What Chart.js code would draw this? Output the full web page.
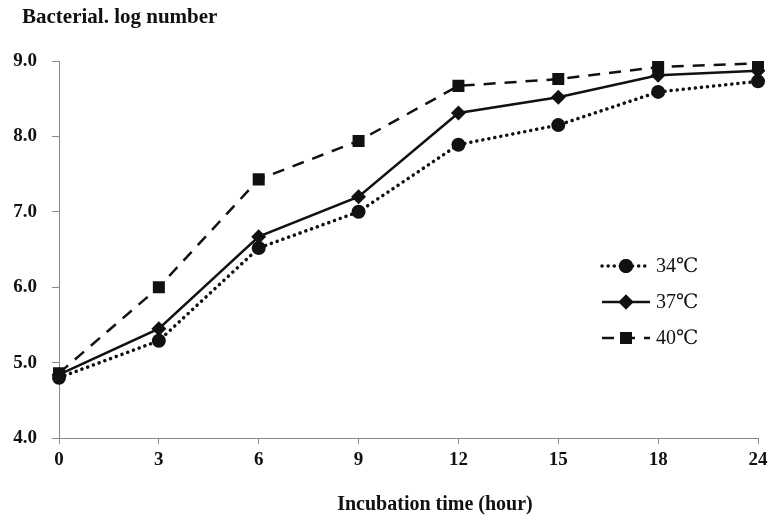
<!DOCTYPE html>
<html>
<head>
<meta charset="utf-8">
<script src="https://cdn.jsdelivr.net/npm/chart.js@4.4.1/dist/chart.umd.min.js"></script>
<style>
  html, body { margin: 0; padding: 0; background: #fff; }
  #wrap { width: 774px; height: 524px; }
</style>
</head>
<body>
<div id="wrap"><canvas id="myChart" width="774" height="524"></canvas></div>
<script>
// data
const hours = ['0', '3', '6', '9', '12', '15', '18', '24'];
const temp34 = [4.80, 5.29, 6.52, 7.00, 7.89, 8.15, 8.59, 8.73];
const temp37 = [4.84, 5.45, 6.67, 7.20, 8.31, 8.52, 8.81, 8.87];
const temp40 = [4.86, 6.00, 7.43, 7.94, 8.67, 8.76, 8.92, 8.97];
const seriesNames = ['34\u2103', '37\u2103', '40\u2103'];
const yTicks = [4, 5, 6, 7, 8, 9];

const serif = '"Liberation Serif", "Times New Roman", "DejaVu Serif", serif';

// titles + legend drawn by hand so they land where the original has them
const extras = {
  id: 'extras',
  afterDraw(chart) {
    const c = chart.ctx;
    c.save();
    c.fillStyle = '#111';
    c.textBaseline = 'middle';
    c.textAlign = 'left';
    c.font = 'bold 21px ' + serif;
    c.fillText('Bacterial. log number', 22, 18);
    c.textAlign = 'center';
    c.font = 'bold 20px ' + serif;
    c.fillText('Incubation time (hour)', 435, 505);

    // legend
    const rows = [266, 302, 338];
    chart.data.datasets.forEach((ds, i) => {
      const y = rows[i];
      c.strokeStyle = ds.borderColor;
      c.lineWidth = ds.borderWidth;
      c.lineCap = ds.borderCapStyle || 'butt';
      c.setLineDash(ds.borderDash || []);
      c.beginPath();
      c.moveTo(602, y);
      c.lineTo(650, y);
      c.stroke();
      c.setLineDash([]);
      Chart.helpers.drawPoint(c, {
        pointStyle: ds.pointStyle,
        radius: ds.pointRadius,
        rotation: 0,
        borderWidth: 0
      }, 626, y);
      c.fillStyle = '#111';
      c.fill();
      c.font = '20px ' + serif;
      c.textAlign = 'left';
      c.fillText(ds.label, 656, y + 1);
    });
    c.restore();
  }
};

const ctx = document.getElementById('myChart').getContext('2d');
new Chart(ctx, {
  type: 'line',
  data: {
    labels: hours,
    datasets: [
      {
        label: seriesNames[0],
        data: temp34,
        borderColor: '#111',
        backgroundColor: '#111',
        borderWidth: 3.5,
        borderDash: [0.1, 6],
        borderCapStyle: 'round',
        pointStyle: 'circle',
        pointRadius: 7,
        pointBorderWidth: 0,
        tension: 0
      },
      {
        label: seriesNames[1],
        data: temp37,
        borderColor: '#111',
        backgroundColor: '#111',
        borderWidth: 2.5,
        pointStyle: 'rectRot',
        pointRadius: 7.5,
        pointBorderWidth: 0,
        tension: 0
      },
      {
        label: seriesNames[2],
        data: temp40,
        borderColor: '#111',
        backgroundColor: '#111',
        borderWidth: 2.5,
        borderDash: [12, 9],
        pointStyle: 'rect',
        pointRadius: 8.5,
        pointBorderWidth: 0,
        tension: 0
      }
    ]
  },
  options: {
    responsive: false,
    animation: false,
    layout: {
      padding: { top: 61, right: 16, left: 0, bottom: 0 }
    },
    scales: {
      x: {
        offset: false,
        grid: {
          drawOnChartArea: false,
          drawTicks: true,
          tickLength: 6,
          color: '#888'
        },
        border: { display: true, color: '#888', width: 1 },
        ticks: {
          font: { family: serif, size: 19, weight: 'bold' },
          color: '#111',
          padding: 5,
          maxRotation: 0,
          autoSkip: false
        },
        afterFit(scale) { scale.height = 86; }
      },
      y: {
        min: 4,
        max: 9,
        afterBuildTicks(scale) {
          scale.ticks = yTicks.map(v => ({ value: v }));
        },
        grid: {
          drawOnChartArea: false,
          drawTicks: true,
          tickLength: 7,
          color: '#888'
        },
        border: { display: true, color: '#888', width: 1 },
        ticks: {
          font: { family: serif, size: 19, weight: 'bold' },
          color: '#111',
          padding: 15,
          callback: v => v.toFixed(1)
        },
        afterFit(scale) { scale.width = 59; }
      }
    },
    plugins: {
      legend: { display: false },
      tooltip: { enabled: false }
    }
  },
  plugins: [extras]
});
</script>
</body>
</html>
